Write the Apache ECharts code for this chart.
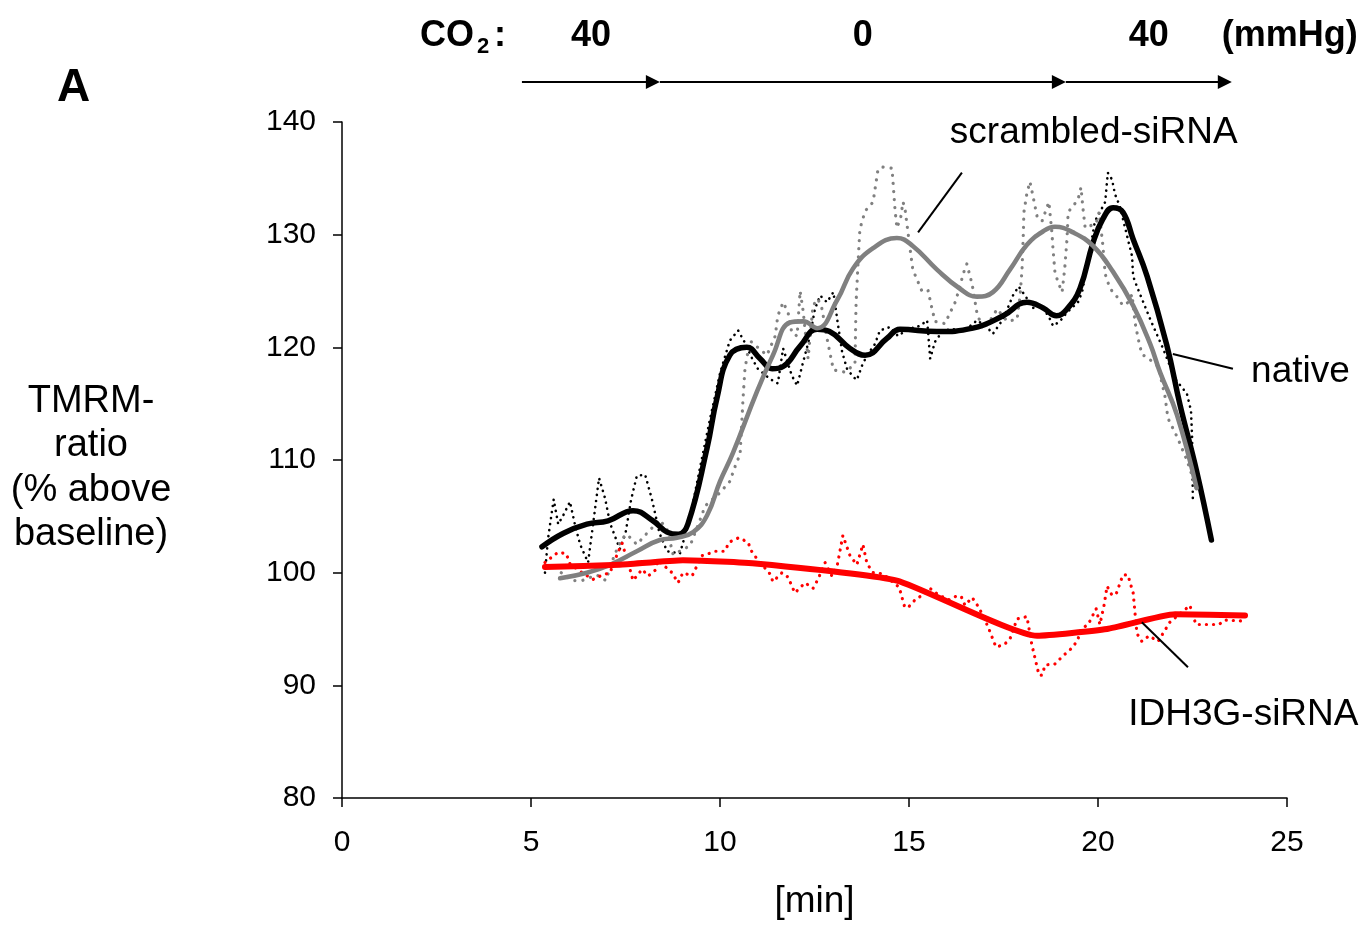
<!DOCTYPE html>
<html>
<head>
<meta charset="utf-8">
<title>TMRM-ratio</title>
<script src="https://cdn.jsdelivr.net/npm/echarts@6/dist/echarts.min.js"></script>
<style>
  html, body { margin: 0; padding: 0; background: #fff; }
  #chart { width: 1367px; height: 925px; }
</style>
</head>
<body>
<div id="chart"></div>
<script>
// Time axis [min] and TMRM-ratio axis (% above baseline)
const xTicks = [0, 5, 10, 15, 20, 25];
const yTicks = [80, 90, 100, 110, 120, 130, 140];

// Raw traces [min, %]
const nativeRaw = [
  [5.37,100.0],[5.45,103.0],[5.6,106.5],[5.72,104.3],[5.87,105.2],[6.03,106.3],[6.16,104.3],[6.3,102.5],
  [6.51,100.9],[6.65,104.5],[6.8,108.4],[6.96,106.6],[7.09,104.4],[7.35,102.1],[7.5,103.5],[7.65,106.5],
  [7.8,108.6],[8.02,108.7],[8.2,106.5],[8.4,103.5],[8.6,101.9],[8.94,101.7],[9.21,104.9],[9.47,109.3],
  [9.74,113.7],[10.0,117.7],[10.26,120.6],[10.48,121.5],[10.66,120.4],[10.85,119.0],[11.0,118.1],
  [11.32,117.2],[11.53,116.8],[11.67,119.9],[11.9,117.5],[12.04,116.6],[12.2,118.7],[12.38,121.0],
  [12.51,123.4],[12.65,124.6],[12.83,124.0],[13.0,124.9],[13.1,122.5],[13.23,119.6],[13.36,118.1],
  [13.52,117.4],[13.62,117.1],[13.76,118.4],[13.89,119.3],[14.1,120.3],[14.23,121.5],[14.5,121.8],
  [14.71,121.0],[14.95,121.6],[15.29,121.9],[15.48,122.4],[15.56,119.0],[15.69,120.5],[15.9,121.5],
  [16.16,121.6],[16.48,121.5],[16.8,122.4],[17.06,121.8],[17.22,121.2],[17.49,122.5],[17.75,124.6],
  [17.9,125.4],[18.07,124.6],[18.28,123.5],[18.52,123.7],[18.73,122.5],[18.81,121.9],[18.99,122.3],
  [19.18,123.1],[19.47,124.0],[19.58,124.9],[19.79,128.7],[19.92,131.2],[20.05,132.0],[20.19,132.9],
  [20.26,135.5],[20.37,134.9],[20.45,133.6],[20.58,132.5],[20.79,129.6],[20.9,128.1],[20.93,126.3],
  [21.03,125.4],[21.38,122.5],[21.72,119.9],[22.04,117.2],[22.35,115.9],[22.46,114.4],[22.49,112.0],
  [22.51,106.2]
];
const scrambledRaw = [
  [5.8,100.0],[6.08,99.3],[6.35,99.3],[6.74,99.8],[6.98,99.3],[7.2,101.5],[7.4,103.0],[7.54,103.4],
  [7.8,102.5],[8.04,103.4],[8.41,104.7],[8.6,103.8],[8.76,101.6],[9.21,102.4],[9.52,105.1],[9.6,105.9],
  [10.0,107.1],[10.26,108.1],[10.45,109.9],[10.53,110.4],[10.61,115.5],[10.66,118.1],[10.79,120.6],
  [11.24,119.3],[11.46,121.0],[11.53,122.8],[11.67,124.0],[11.8,123.1],[11.9,121.3],[12.04,121.0],
  [12.12,125.0],[12.2,123.2],[12.33,119.0],[12.46,123.7],[12.59,124.3],[12.7,123.4],[12.83,120.8],
  [13.0,118.0],[13.3,117.8],[13.57,118.5],[13.6,124.0],[13.66,128.0],[13.7,130.5],[13.84,132.1],
  [14.05,132.9],[14.18,135.8],[14.31,136.0],[14.55,135.9],[14.63,132.2],[14.68,130.6],[14.78,131.5],
  [14.84,132.9],[14.89,132.4],[15.03,128.7],[15.1,126.9],[15.24,125.8],[15.34,125.0],[15.5,125.1],
  [15.61,123.4],[15.69,122.3],[15.95,122.1],[16.22,124.0],[16.35,125.4],[16.43,126.5],[16.53,127.4],
  [16.67,125.6],[16.8,123.0],[16.96,121.6],[17.15,122.4],[17.33,123.4],[17.6,122.3],[17.86,122.5],
  [17.94,124.6],[17.99,126.9],[18.02,129.6],[18.04,132.0],[18.12,133.7],[18.2,134.7],[18.28,133.4],
  [18.39,131.6],[18.52,131.2],[18.7,132.9],[18.78,130.2],[18.81,128.7],[18.86,126.7],[18.94,125.8],
  [19.05,124.9],[19.12,127.0],[19.18,129.6],[19.21,132.0],[19.47,133.1],[19.55,134.2],[19.6,132.4],
  [19.66,130.6],[19.95,131.0],[20.03,132.0],[20.13,129.0],[20.19,126.5],[20.3,125.4],[20.37,125.0],
  [20.5,124.5],[20.66,123.7],[20.8,124.0],[20.9,124.7],[20.98,122.2],[21.06,120.8],[21.16,119.4],
  [21.46,118.7],[21.59,118.3],[21.77,115.7],[21.85,113.7],[22.1,112.0],[22.35,110.0],[22.61,107.4]
];
const idhRaw = [
  [5.37,100.9],[5.71,101.8],[5.93,101.7],[6.03,100.8],[6.35,100.0],[6.64,99.4],[6.9,99.8],[7.09,100.0],
  [7.3,101.8],[7.41,102.6],[7.57,100.9],[7.7,99.3],[7.94,100.3],[8.1,99.7],[8.28,100.2],[8.36,101.1],
  [8.73,100.0],[8.89,99.1],[9.02,100.0],[9.26,99.7],[9.52,101.5],[9.89,101.9],[10.13,101.9],[10.24,102.7],
  [10.5,103.1],[10.74,102.7],[10.85,101.8],[11.01,101.1],[11.32,99.9],[11.4,99.2],[11.64,100.0],
  [11.8,99.6],[11.98,98.2],[12.25,99.1],[12.46,98.6],[12.59,99.4],[12.78,100.9],[12.96,99.7],[13.1,100.6],
  [13.25,103.3],[13.44,101.5],[13.62,100.7],[13.78,102.5],[13.89,100.8],[14.05,100.0],[14.31,99.9],
  [14.74,98.7],[14.89,96.9],[15.0,97.0],[15.19,97.7],[15.42,98.1],[15.56,98.6],[15.79,98.0],[16.06,97.6],
  [16.24,97.9],[16.38,97.9],[16.48,97.1],[16.67,97.8],[16.85,96.9],[17.09,95.2],[17.3,93.4],[17.51,93.6],
  [17.67,94.1],[17.86,95.9],[18.12,96.1],[18.25,93.6],[18.44,90.9],[18.52,90.9],[18.6,91.8],[18.86,91.9],
  [19.07,92.6],[19.34,93.4],[19.47,94.1],[19.55,95.0],[19.74,95.4],[19.95,96.8],[20.05,95.4],[20.16,97.1],
  [20.24,98.8],[20.37,98.0],[20.48,98.1],[20.66,99.8],[20.79,99.8],[20.93,98.2],[21.03,94.6],[21.16,93.9],
  [21.35,94.4],[21.59,93.9],[21.9,95.6],[22.33,96.8],[22.43,97.1],[22.59,95.4],[23.2,95.4],[23.36,95.8],
  [23.84,95.7]
];

// Smoothed traces [min, %]
const nativeFit = [
  [5.29,102.3],[5.86,103.5],[6.48,104.3],[7.04,104.6],[7.7,105.5],[8.23,104.6],[8.6,103.6],[8.9,103.4],
  [9.15,104.3],[9.66,111.1],[9.92,115.5],[10.26,119.3],[10.71,120.0],[11.06,119.0],[11.38,118.1],
  [11.67,118.3],[12.12,120.1],[12.57,121.6],[12.9,121.4],[13.44,119.9],[13.84,119.3],[14.42,120.8],
  [14.76,121.6],[15.74,121.4],[16.69,121.7],[17.49,122.8],[18.12,124.0],[18.55,123.5],[18.9,122.8],
  [19.18,123.4],[19.52,125.2],[19.87,129.3],[20.13,131.4],[20.4,132.4],[20.66,132.0],[20.93,129.6],
  [21.3,126.3],[21.82,120.2],[22.17,114.9],[22.61,109.0],[23.0,102.9]
];
const scrambledFit = [
  [5.77,99.5],[6.48,100.0],[7.09,100.7],[7.8,101.9],[8.41,102.9],[8.86,103.1],[9.29,103.6],[9.66,105.1],
  [10.0,108.1],[10.34,110.6],[10.98,116.1],[11.4,119.3],[11.85,122.2],[12.2,122.3],[12.57,121.7],
  [13.1,124.2],[13.52,127.0],[14.05,128.8],[14.68,129.7],[15.1,129.0],[15.74,126.9],[16.35,125.2],
  [16.8,124.5],[17.22,124.9],[17.67,126.9],[18.12,129.1],[18.55,130.3],[18.86,130.7],[19.34,130.2],
  [19.87,129.0],[20.4,126.7],[20.93,123.7],[21.38,120.3],[21.64,117.8],[22.09,114.0],[22.61,107.5]
];
const idhFit = [
  [5.37,100.5],[7.35,100.7],[9.02,101.1],[11.0,100.8],[14.68,99.3],[18.39,94.4],[20.24,95.0],
  [22.04,96.3],[23.89,96.2]
];

// CO2 perfusion phases [mmHg] with start/end times [min]
const co2Levels = ['40', '0', '40'];
const co2Bounds = [4.76, 8.41, 19.15, 23.54];

// Curve labels: text, anchor of text [min, %], leader line from/to [min, %]
const curveLabels = [
  { text: 'scrambled-siRNA', at: [16.08, 139.0], from: [15.24, 130.2], to: [16.4, 135.5] },
  { text: 'native',          at: [24.05, 117.8], from: [21.98, 119.4], to: [23.57, 118.1] },
  { text: 'IDH3G-siRNA',     at: [20.8, 87.4],  from: [21.16, 95.6], to: [22.38, 91.6] }
];

const FONT = '"Liberation Sans", Arial, Helvetica, sans-serif';
const chart = echarts.init(document.getElementById('chart'), null, { renderer: 'canvas' });

function dotted(name, data, color, width, gap) {
  return {
    name, type: 'line', data, showSymbol: false, silent: true, z: 2,
    lineStyle: { color, width, type: [0.1, gap], cap: 'round', join: 'round' }
  };
}
function solid(name, data, color, width, smooth) {
  return {
    name, type: 'line', data, showSymbol: false, silent: true, smooth, z: 3,
    lineStyle: { color, width, cap: 'round', join: 'round' }
  };
}

chart.setOption({
  animation: false,
  backgroundColor: '#fff',
  grid: { left: 342, right: 80, top: 122, bottom: 123 },
  xAxis: {
    type: 'value', min: xTicks[0], max: xTicks[xTicks.length - 1], interval: 5,
    name: '[min]', nameLocation: 'middle', nameGap: 85,
    nameTextStyle: { color: '#000', fontSize: 37, fontFamily: FONT },
    axisLine: { lineStyle: { color: '#000', width: 1.5 } },
    axisTick: { length: 9, lineStyle: { color: '#000', width: 1.5 } },
    axisLabel: { color: '#000', fontSize: 30, fontFamily: FONT, margin: 30 },
    splitLine: { show: false }
  },
  yAxis: {
    type: 'value', min: yTicks[0], max: yTicks[yTicks.length - 1], interval: 10,
    axisLine: { show: true, lineStyle: { color: '#000', width: 1.5 } },
    axisTick: { show: true, length: 9, lineStyle: { color: '#000', width: 1.5 } },
    axisLabel: { color: '#000', fontSize: 30, fontFamily: FONT, margin: 26 },
    splitLine: { show: false }
  },
  series: [
    dotted('native raw', nativeRaw, '#000000', 2.6, 6),
    dotted('scrambled raw', scrambledRaw, '#808080', 3.2, 8),
    dotted('IDH3G raw', idhRaw, '#ff0000', 3.2, 7),
    solid('native', nativeFit, '#000000', 5.5, 0.45),
    solid('scrambled-siRNA', scrambledFit, '#808080', 4.6, 0.45),
    solid('IDH3G-siRNA', idhFit, '#ff0000', 6, 0.15)
  ]
});

// Annotations placed through the chart's own coordinate system
function px(p) { return chart.convertToPixel({ gridIndex: 0 }, p); }
const g = [];
const ARROW_Y = 82;
const HEAD_Y = 36;

g.push({ type: 'text', x: 57, y: 88, style: { text: 'A', fill: '#000', font: 'bold 46px ' + FONT, textVerticalAlign: 'middle' } });

// Y axis title
g.push({
  type: 'text', x: 91, y: 468,
  style: {
    text: 'TMRM-\nratio\n(% above\nbaseline)', fill: '#000', font: '38px ' + FONT,
    textAlign: 'center', textVerticalAlign: 'middle', lineHeight: 44.5
  }
});

// CO2 header
g.push({ type: 'text', x: 420, y: HEAD_Y, style: { text: 'CO', fill: '#000', font: 'bold 36px ' + FONT, textVerticalAlign: 'middle' } });
g.push({ type: 'text', x: 477, y: HEAD_Y + 11, style: { text: '2', fill: '#000', font: 'bold 22px ' + FONT, textVerticalAlign: 'middle' } });
g.push({ type: 'text', x: 494, y: HEAD_Y, style: { text: ':', fill: '#000', font: 'bold 36px ' + FONT, textVerticalAlign: 'middle' } });
const lastX = px([co2Bounds[co2Bounds.length - 1], 100])[0];
g.push({ type: 'text', x: lastX - 10, y: HEAD_Y, style: { text: '(mmHg)', fill: '#000', font: 'bold 36px ' + FONT, textVerticalAlign: 'middle' } });

co2Levels.forEach((lvl, i) => {
  const x0 = px([co2Bounds[i], 100])[0];
  const x1 = px([co2Bounds[i + 1], 100])[0];
  g.push({ type: 'text', x: (x0 + x1) / 2, y: HEAD_Y, style: { text: lvl, fill: '#000', font: 'bold 36px ' + FONT, textAlign: 'center', textVerticalAlign: 'middle' } });
  g.push({ type: 'line', shape: { x1: x0, y1: ARROW_Y, x2: x1 - 12, y2: ARROW_Y }, style: { stroke: '#000', lineWidth: 2 } });
  g.push({ type: 'polygon', shape: { points: [[x1 - 14, ARROW_Y - 7], [x1, ARROW_Y], [x1 - 14, ARROW_Y + 7]] }, style: { fill: '#000' } });
});

// Curve labels with leader lines
curveLabels.forEach(c => {
  const a = px(c.at), f = px(c.from), t = px(c.to);
  g.push({ type: 'line', shape: { x1: f[0], y1: f[1], x2: t[0], y2: t[1] }, style: { stroke: '#000', lineWidth: 2 }, z: 10 });
  g.push({ type: 'text', x: a[0], y: a[1], style: { text: c.text, fill: '#000', font: '37px ' + FONT, textVerticalAlign: 'middle' }, z: 10 });
});

chart.setOption({ graphic: g });
</script>
</body>
</html>
